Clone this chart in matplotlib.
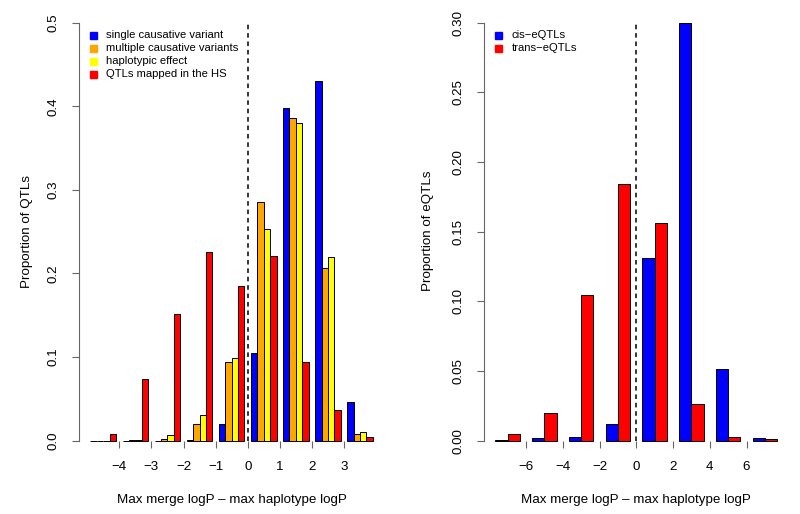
import numpy as np
import matplotlib
matplotlib.use("Agg")
import matplotlib.pyplot as plt

plt.rcParams['font.family'] = ['Liberation Sans', 'DejaVu Sans']

# left panel: proportion of QTLs per bin of (max merge logP - max haplotype logP)
qtl_bins = [-4.5, -3.5, -2.5, -1.5, -0.5, 0.5, 1.5, 2.5, 3.5]
single_var = [0.0, 0.0, 0.0, 0.0008, 0.0195, 0.1049, 0.398, 0.4306, 0.0463]
multi_var = [0.0, 0.0005, 0.0016, 0.0199, 0.0937, 0.2855, 0.3856, 0.2061, 0.0076]
haplo_eff = [0.0, 0.001, 0.0068, 0.0307, 0.0993, 0.2528, 0.3804, 0.2193, 0.010]
hs_qtls = [0.008, 0.0738, 0.1515, 0.2253, 0.1846, 0.2213, 0.0941, 0.0367, 0.0044]
qtl_names = ["single causative variant", "multiple causative variants",
             "haplotypic effect", "QTLs mapped in the HS"]
qtl_cols = ["#0000FF", "#FFA500", "#FFFF00", "#FF0000"]
qtl_ticks = [-4, -3, -2, -1, 0, 1, 2, 3]

# right panel: eQTLs
eqtl_bins = [-7, -5, -3, -1, 1, 3, 5, 7]
cis_eqtl = [0.0005, 0.0017, 0.0026, 0.0117, 0.1309, 0.300, 0.0512, 0.0017]
trans_eqtl = [0.0048, 0.0201, 0.1043, 0.1842, 0.1565, 0.0263, 0.0026, 0.001]
eqtl_names = ["cis\u2212eQTLs", "trans\u2212eQTLs"]
eqtl_cols = ["#0000FF", "#FF0000"]
eqtl_ticks = [-6, -4, -2, 0, 2, 4, 6]

W, H = 800, 514
FS = 9.6
fig = plt.figure(figsize=(8, 5.14), dpi=100)

def px_axes(x0, x1, y0, y1):
    return fig.add_axes([x0 / W, (H - y1) / H, (x1 - x0) / W, (y1 - y0) / H])

def style(ax, ymax, yticks, yfmt):
    for s in ["top", "right", "bottom"]:
        ax.spines[s].set_visible(False)
    ax.spines["left"].set_bounds(0, ymax)
    ax.spines["left"].set_color("#666666")
    ax.spines["bottom"].set_position(("data", 0))
    ax.set_yticks(yticks)
    ax.set_yticklabels([yfmt.format(v) for v in yticks])
    ax.tick_params(axis="y", length=5, width=0.8, color="#666666", pad=9,
                   labelsize=FS, labelrotation=90)
    ax.tick_params(axis="x", length=5, width=0.8, color="#666666", pad=9.5,
                   labelsize=FS)
    for t in ax.get_yticklabels():
        t.set_va("center")

def legend(ax, names, cols, x_sq, x_txt, y_first):
    for i, (n, c) in enumerate(zip(names, cols)):
        y = y_first + i * 13
        fig.patches.append(plt.Rectangle((x_sq / W, (H - y - 3.5) / H), 7 / W, 7 / H,
                                         transform=fig.transFigure, color=c))
        fig.text(x_txt / W, (H - y) / H, n, fontsize=8.1, va="center", ha="left")

# left panel
ax1 = px_axes(79.2, 384.1, 6, 457.4)
bw = 0.2
for k, (vals, c) in enumerate(zip([single_var, multi_var, haplo_eff, hs_qtls], qtl_cols)):
    ax1.bar(np.array(qtl_bins) + (k - 1.5) * bw, vals, width=bw, color=c,
            edgecolor="black", linewidth=0.7)
ax1.vlines(0, 0, 0.5, colors="black", linestyles=(0, (3, 2.5)), linewidth=1.1)
ax1.set_xlim(-5.25, 4.25)
ax1.set_ylim(-0.02, 0.52)
ax1.set_xticks(qtl_ticks)
style(ax1, 0.5, [0.0, 0.1, 0.2, 0.3, 0.4, 0.5], "{:.1f}")
legend(ax1, qtl_names, qtl_cols, 89.5, 106.5, 35)

# right panel
ax2 = px_axes(483.8, 788.8, 6, 457.4)
bw2 = 2 / 3
for k, (vals, c) in enumerate(zip([cis_eqtl, trans_eqtl], eqtl_cols)):
    ax2.bar(np.array(eqtl_bins) + (k - 0.5) * bw2, vals, width=bw2, color=c,
            edgecolor="black", linewidth=0.7)
ax2.vlines(0, 0, 0.30, colors="black", linestyles=(0, (3, 2.5)), linewidth=1.1)
ax2.set_xlim(-8.3, 8.3)
ax2.set_ylim(-0.012, 0.312)
ax2.set_xticks(eqtl_ticks)
style(ax2, 0.30, [0.0, 0.05, 0.10, 0.15, 0.20, 0.25, 0.30], "{:.2f}")
legend(ax2, eqtl_names, eqtl_cols, 494.5, 511.5, 35)

# axis titles
fig.text(231.6 / W, (H - 500) / H, "Max merge logP \u2013 max haplotype logP",
         fontsize=FS, ha="center", va="center")
fig.text(636.3 / W, (H - 500) / H, "Max merge logP \u2013 max haplotype logP",
         fontsize=FS, ha="center", va="center")
fig.text(26.7 / W, (H - 231) / H, "Proportion of QTLs", fontsize=FS,
         rotation=90, ha="center", va="center")
fig.text(428.3 / W, (H - 231) / H, "Proportion of eQTLs", fontsize=FS,
         rotation=90, ha="center", va="center")

fig.savefig("out.png", dpi=100)
